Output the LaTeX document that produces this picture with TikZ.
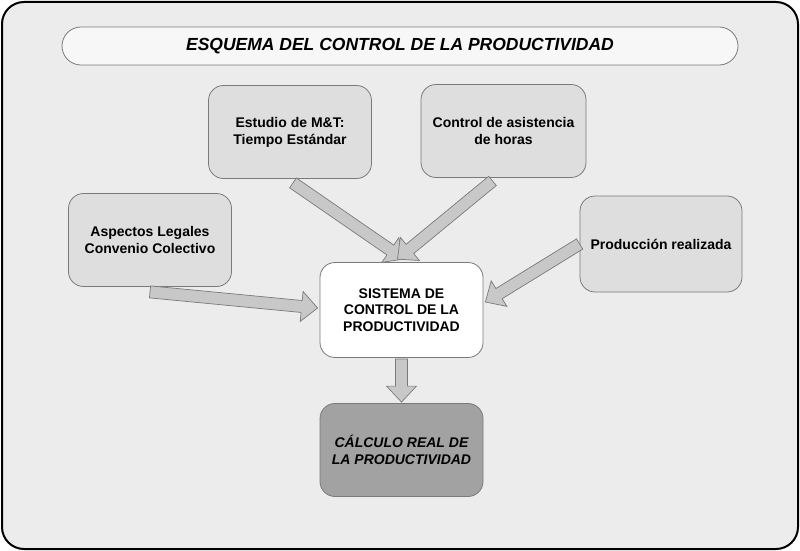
\documentclass[tikz,border=0pt]{standalone}
\usepackage{fontspec}
\setmainfont{Liberation Sans}
\usetikzlibrary{calc}
\definecolor{bgc}{HTML}{ECECEC}
\definecolor{boxc}{HTML}{DEDEDE}
\definecolor{arrc}{HTML}{C8C8C8}
\definecolor{edgec}{HTML}{7A7A7A}
\definecolor{darkc}{HTML}{A2A2A2}
\tikzset{
  card/.style={draw=edgec, line width=0.8pt, rounded corners=15pt, fill=boxc,
    minimum width=163pt, minimum height=93pt, align=center,
    font=\fontsize{14}{16.8}\selectfont\bfseries},
  barrowstyle/.style={draw=edgec, line width=0.7pt, fill=arrc, line join=miter},
}
% block arrow: #1 name, #2 start, #3 end
\newcommand\blockarrow[3]{%
  \coordinate (#1h) at ($(#3)!16pt!(#2)$);
  \draw[barrowstyle] ($(#2)!6pt!90:(#3)$) -- ($(#1h)!6pt!-90:(#2)$)
    -- ($(#1h)!15pt!-90:(#2)$) -- (#3) -- ($(#1h)!15pt!90:(#2)$)
    -- ($(#1h)!6pt!90:(#2)$) -- ($(#2)!6pt!-90:(#3)$) -- cycle;
}
\begin{document}
\begin{tikzpicture}[x=1pt,y=-1pt]
\useasboundingbox (0,0) rectangle (800,551);
\draw[line width=2pt, fill=bgc, rounded corners=22pt] (2,2) rectangle (798,549);
% title
\node[draw=edgec, line width=0.8pt, fill=white!60!bgc, rounded corners=19pt,
  minimum width=676pt, minimum height=38pt,
  font=\fontsize{17.5}{20}\selectfont\bfseries\itshape] (title) at (400,46)
  {ESQUEMA DEL CONTROL DE LA PRODUCTIVIDAD};
% boxes
\node[card] (estudio) at (290,132) {Estudio de M\&T:\\Tiempo Estándar};
\node[card, minimum width=165pt] (asist) at (503.5,131) {Control de asistencia\\de horas};
\node[card] (legal) at (150,240) {Aspectos Legales\\Convenio Colectivo};
\node[card, minimum width=162pt, minimum height=96pt] (prod) at (661,244) {Producción realizada};
\node[card, fill=white, minimum height=95pt] (sist) at (401.5,310)
  {SISTEMA DE\\CONTROL DE LA\\PRODUCTIVIDAD};
\node[card, fill=darkc, font=\fontsize{14}{16.8}\selectfont\bfseries\itshape] (calc) at (401.5,450)
  {CÁLCULO REAL DE\\LA PRODUCTIVIDAD};
% arrow ends
\coordinate (a1s) at ($(estudio.south)+(3,4)$);
\coordinate (a1e) at ($(sist.north)+(2,-3)$);
\coordinate (a2s) at ($(asist.south)+(-11,3)$);
\coordinate (a2e) at ($(sist.north)+(-4,-3)$);
\coordinate (a3s) at ($(legal.south)+(0,5)$);
\coordinate (a3e) at ($(sist.west)+(-2,-2)$);
\coordinate (a4s) at ($(prod.west)+(0,0)$);
\coordinate (a4e) at ($(sist.east)+(2,-8)$);
\coordinate (a5s) at ($(sist.south)+(0,1)$);
\coordinate (a5e) at ($(calc.north)+(0,-1)$);
\blockarrow{x1}{a1s}{a1e}
\blockarrow{x2}{a2s}{a2e}
\blockarrow{x3}{a3s}{a3e}
\blockarrow{x4}{a4s}{a4e}
\blockarrow{x5}{a5s}{a5e}
\end{tikzpicture}
\end{document}
